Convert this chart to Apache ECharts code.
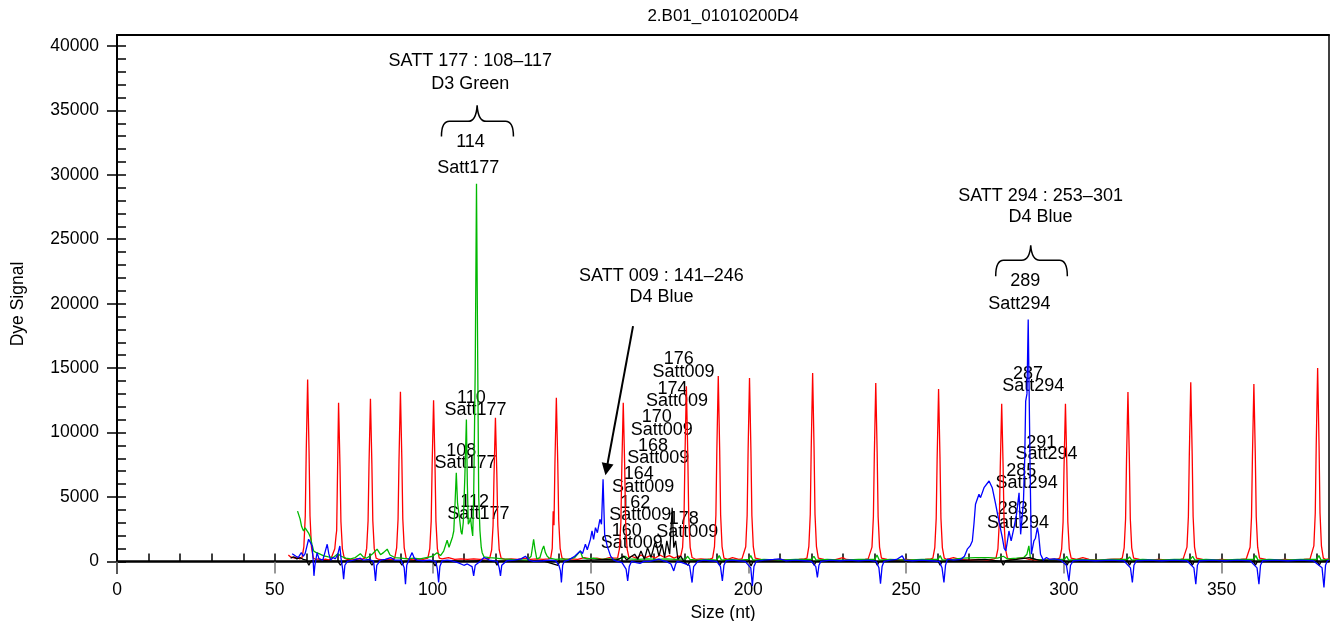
<!DOCTYPE html>
<html>
<head>
<meta charset="utf-8">
<script src="https://cdn.jsdelivr.net/npm/echarts@6/dist/echarts.min.js"></script>
<style>html,body{margin:0;padding:0;background:#fff}#c{width:1330px;height:621px}</style>
</head>
<body>
<div id="c"></div>
<script>
const chartTitle = '2.B01_01010200D4';
const xName = 'Size (nt)';
const yName = 'Dye Signal';
const xTickLabels = [0, 50, 100, 150, 200, 250, 300, 350];
const yTickLabels = [0, 5000, 10000, 15000, 20000, 25000, 30000, 35000, 40000];

const redTrace = [
[54.3,500],[55.0,350],[55.6,450],[56.3,250],[57.0,350],[57.8,200],
[58.6,250],[59.2,1130],[59.65,3530],[59.95,8470],[60.4,14120],[60.85,8470],[61.15,3530],[61.6,1130],[62.2,250],
[63.0,150],[64.0,200],[65.0,120],[66.0,180],[67.0,120],[67.8,200],
[68.4,250],[69.0,985],[69.4,2000],[69.6,2400],[69.9,7390],[70.2,12310],[70.65,7390],[70.95,3080],[71.4,985],[72.0,250],
[73,150],[74.5,120],[76,200],[77.5,150],
[78.5,250],[79.1,1010],[79.55,3155],[79.85,7570],[80.3,12620],[80.75,7570],[81.05,3155],[81.5,1010],[82.1,250],
[83,150],[84.5,120],[86,180],[87.2,150],
[88.0,250],[88.6,1050],[89.05,3290],[89.35,7900],[89.8,13160],[90.25,7900],[90.55,3290],[91.0,1050],[91.6,250],
[92.5,150],[94,120],[95.5,200],[97,150],
[98.5,250],[99.1,1000],[99.55,3125],[99.85,7500],[100.3,12500],[100.75,7500],[101.05,3125],[101.5,1000],[102.1,250],
[103,200],[105,300],[107,150],[109,200],[111,150],[113,200],[115,150],[117,200],
[118.1,250],[118.7,890],[119.15,2790],[119.45,6690],[119.9,11150],[120.35,6690],[120.65,2790],[121.1,890],[121.7,250],
[123,150],[125,200],[127,150],[129,250],[131,150],[133,200],[135,150],[136.6,200],
[137.4,250],[137.9,1015],[138.2,3900],[138.45,2800],[138.75,7620],[139.2,12700],[139.65,7620],[139.95,3175],[140.4,1015],[141.0,250],
[142,150],[144,200],[146,150],[148,300],[150,200],[152,250],[154,150],[156,300],[157.6,250],
[158.6,250],[159.2,985],[159.65,3080],[159.95,7390],[160.4,12310],[160.85,7390],[161.15,3080],[161.6,985],[162.2,300],
[163,400],[164.5,250],[166,500],[167.5,300],[169,450],[170.5,250],[172,500],[173.5,300],[175,450],[176.5,250],[177.8,400],
[178.6,400],[179.2,1090],[179.65,3400],[179.95,8160],[180.4,13600],[180.85,8160],[181.15,3400],[181.6,1090],[182.2,300],
[183.5,150],[185,200],[187,150],[188.0,200],
[188.7,250],[189.3,1150],[189.75,3595],[190.05,8630],[190.5,14380],[190.95,8630],[191.25,3595],[191.7,1150],[192.3,250],
[193.5,150],[195,300],[197,150],[198.0,200],
[198.6,250],[199.2,1140],[199.65,3560],[199.95,8540],[200.4,14230],[200.85,8540],[201.15,3560],[201.6,1140],[202.2,250],
[204,150],[207,100],[210,150],[213,100],[216,150],[217.8,200],
[218.6,250],[219.2,1170],[219.65,3650],[219.95,8770],[220.4,14610],[220.85,8770],[221.15,3650],[221.6,1170],[222.2,250],
[224,150],[227,100],[230,300],[231,150],[234,100],[237,150],[238.0,200],
[238.6,250],[239.2,1110],[239.65,3460],[239.95,8300],[240.4,13840],[240.85,8300],[241.15,3460],[241.6,1110],[242.2,250],
[244,150],[247,100],[250,150],[253,100],[256,150],[257.8,200],
[258.5,250],[259.1,1070],[259.55,3340],[259.85,8020],[260.3,13370],[260.75,8020],[261.05,3340],[261.5,1070],[262.1,250],
[263,150],[265,300],[267,150],[270,100],[273,150],[276,100],[277.8,200],
[278.5,250],[279.1,980],[279.55,3060],[279.85,7340],[280.3,12230],[280.75,7340],[281.05,3060],[281.5,980],[282.1,250],
[283,150],[285,200],[287,300],[289,150],[292,100],[295,150],[298.0,200],
[298.7,250],[299.3,980],[299.75,3060],[300.05,7340],[300.5,12230],[300.95,7340],[301.25,3060],[301.7,980],[302.3,250],
[304,150],[306,300],[308,150],[311,100],[314,150],[317.8,200],
[318.5,250],[319.1,1050],[319.55,3290],[319.85,7890],[320.3,13150],[320.75,7890],[321.05,3290],[321.5,1050],[322.1,250],
[324,150],[327,100],[330,150],[334,100],[337,150],[337.8,200],
[338.4,250],[339.0,1110],[339.45,3480],[339.75,8350],[340.2,13910],[340.65,8350],[340.95,3480],[341.4,1110],[342.0,250],
[344,150],[347,100],[350,150],[353,100],[356,150],[357.8,200],
[358.4,250],[359.0,1100],[359.45,3440],[359.75,8260],[360.2,13760],[360.65,8260],[360.95,3440],[361.4,1100],[362.0,250],
[364,150],[367,100],[370,150],[373,100],[376,150],[378.0,200],
[378.6,250],[379.2,1200],[379.65,3750],[379.95,9000],[380.4,15000],[380.85,9000],[381.15,3750],[381.6,1200],[382.2,250],
[383,150],[384,200]
];

const greenTrace = [
[57.2,3900],[57.6,3750],[58.0,3300],[58.5,2700],[59.1,2360],[59.6,2600],[60.2,2500],[60.7,2200],[61.3,1850],[61.8,1300],
[62.3,810],[63,700],[64,600],[65.5,430],[67,350],[68.5,300],[70,600],[71,400],[72.5,250],[74,200],[75.5,300],[77.1,600],
[78,350],[79,250],[80,400],[81,600],[82.4,950],[83.5,520],[84.5,700],[85.6,950],[86.5,500],[88,300],[90,250],[92,200],
[94,250],[96,200],[98,300],[100,400],[101.4,680],[102.5,450],[103.5,800],[104.6,1640],[105.2,1100],[105.7,1070],[106.3,1900],
[106.7,2360],[107.1,4500],[107.5,6880],[107.9,4500],[108.5,3400],[109.0,2300],[109.3,2100],[109.7,3000],[110.2,6500],
[110.7,11020],[111.0,6000],[111.3,2880],[111.7,3100],[112.0,3400],[112.4,2500],[112.7,1980],[113.0,4950],[113.5,15000],
[113.9,29300],[114.3,15000],[114.6,4950],[115.0,2360],[115.4,1100],[115.7,680],[116.3,350],[118,300],[120,250],[122,200],
[125,150],[128,120],[130,100],[131.2,400],[131.7,1200],[132.0,1720],[132.4,1000],[133,200],[134,300],[134.7,900],[135.2,1200],
[135.7,700],[136.3,400],[137,250],[139,150],[141,200],[143,150],[145,300],[146.8,810],[147.5,300],[149,200],[151,250],
[153,150],[156,200],[158,150],[160,250],[161,400],[162,200],[165,150],[168,200],[171,150],[174,200],[177,150],[180.2,200],
[180.8,400],[181.5,150],[184,100],[187,150],[190,100],[190.8,450],[191.5,100],[194,150],[197,100],[200.1,150],[200.8,450],
[201.5,100],[205,150],[210,100],[215,150],[220.1,150],[220.8,400],[221.5,100],[225,150],[230,100],[235,150],[240.1,150],
[240.8,500],[241.5,100],[245,150],[250,100],[255,150],[260.1,150],[260.8,450],[261.5,100],[265,150],[268,250],[272,300],
[276,300],[279,250],[280.8,400],[282,200],[285,250],[287.3,300],[288.3,560],[288.9,1200],[289.4,250],[291,150],[294,100],
[297,150],[300.2,150],[300.9,400],[301.5,100],[305,150],[310,100],[315,150],[320.1,150],[320.8,350],[321.5,100],[325,150],
[330,100],[335,150],[340.1,150],[340.8,400],[341.5,100],[345,150],[350,100],[355,150],[360.1,150],[360.8,450],[361.5,100],
[365,150],[370,100],[375,150],[380.1,150],[380.8,450],[381.5,100],[384,150]
];

const blueTrace = [
[55.5,600],[56,680],[56.7,400],[57.4,300],[58.4,680],[59,400],[59.6,600],[60.2,1200],[60.7,1720],[61.2,1500],[61.8,1200],
[62.1,300],[62.4,-1120],[62.7,-300],[63.4,680],[64,200],[64.4,300],[65.2,100],[66,800],[66.6,1330],[67.1,600],[67.7,100],
[68.5,300],[69.2,200],[70.0,600],[70.6,1200],[71.0,200],[71.5,-600],[71.8,-1380],[72.2,-300],[73,0],[75,100],[77.1,250],
[78,100],[80,150],[81.3,0],[81.6,-700],[81.9,-1510],[82.3,-300],[83.5,100],[85,150],[86.7,300],[88,100],[90,100],[91,-500],
[91.4,-1770],[91.8,-300],[92.6,200],[93.5,680],[94.2,250],[95,100],[97,50],[99,100],[101,0],[101.5,-600],[101.9,-1640],
[102.3,-400],[103,50],[104.6,100],[106,50],[108,-100],[109.9,-300],[111,-200],[112.5,-400],[113,-1120],[113.5,-300],[115,0],
[116.3,300],[118,100],[120.5,0],[121.1,-500],[121.5,-1120],[121.9,-300],[123.5,50],[126,100],[128,200],[129.4,400],[130.5,100],
[132,0],[135,50],[137,100],[139,50],[140.0,-300],[140.5,-740],[140.8,-1640],[141.2,-300],[141.7,0],[143,100],[145,400],
[146.8,810],[147.5,600],[148.4,1330],[149,900],[150,1720],[150.5,2360],[151,1700],[151.6,2620],[152.2,2230],[153,3270],
[153.5,2880],[154,6370],[154.5,2100],[155.3,1200],[156.4,410],[157.4,100],[158.5,0],[160,-100],[161.3,-600],[161.8,-1510],
[162.3,-400],[163,0],[164.5,-100],[165.7,-150],[167,0],[168.8,0],[170.5,100],[171.7,170],[173,50],[174,0],[175.5,-200],
[176.4,-740],[177,-200],[177.5,0],[179,-100],[181.4,-300],[182.2,-1640],[182.7,-400],[184,0],[186,100],[188,50],[190,0],
[191.2,-400],[191.8,-1510],[192.3,-300],[193,50],[195,100],[197,50],[199,0],[200.8,-500],[201.3,-1900],[201.8,-400],
[202.5,0],[205,100],[208,150],[210,200],[212,50],[215,100],[218,50],[220,0],[221.4,-400],[221.9,-1250],[222.4,-300],[223,0],
[226,100],[229,50],[232,100],[235,50],[238,100],[240.5,0],[241.4,-500],[241.9,-1720],[242.4,-400],[243,0],[245,100],
[247,150],[248.8,430],[249.5,100],[252,50],[255,100],[258,50],[260.5,0],[261.4,-500],[262,-1640],[262.5,-300],[263.1,170],
[265,100],[267.3,150],[268.5,400],[269.4,950],[270.3,1200],[271,1590],[271.5,2880],[272,4430],[273.1,5210],[273.6,4950],
[274.7,5720],[276.3,6240],[277.3,5720],[278.4,4430],[279.4,3140],[280.5,1850],[281.1,1000],[281.6,810],[282.0,1400],
[282.6,2360],[283.3,1590],[284.2,2620],[285,3660],[285.8,5330],[286.3,2100],[287.2,4690],[287.6,8000],[287.9,12440],
[288.3,13000],[288.7,18770],[289.3,7270],[289.7,560],[290.1,700],[290.5,1590],[291.0,1800],[291.6,2620],[292,2100],
[292.6,560],[293.5,100],[294.5,300],[295.5,150],[297,200],[299,100],[300.8,-300],[301.6,-1510],[302.1,-300],[303,50],
[306,100],[310,50],[315,100],[319,50],[321.1,-500],[321.7,-1640],[322.2,-300],[323,50],[327,100],[331,50],[335,100],
[339,50],[341.2,-500],[341.8,-1770],[342.3,-300],[343,50],[347,100],[351,50],[355,100],[359,50],[361.2,-500],[361.8,-1770],
[362.3,-300],[363,50],[367,100],[371,50],[375,100],[379,50],[381.8,-500],[382.4,-2030],[382.9,-300],[383.5,50],[384,100]
];

const blackTrace = [
[55,250],[56,350],[57,200],[58,300],[59,150],[60,100],[60.8,-300],[61.5,50],[63,0],[66,50],[70,0],[70.8,-300],[71.5,0],
[75,50],[80,0],[80.8,-300],[81.5,0],[85,50],[89.5,0],[90.3,-300],[91,0],[95,50],[100,0],[100.8,-350],[101.5,0],[105,50],
[110,0],[115,50],[119.8,0],[120.4,-300],[121,0],[125,50],[130,0],[135,50],[139.7,-300],[140.3,0],[145,50],[150,100],
[155,150],[158,100],[159,170],[160.6,410],[161.5,100],[162.5,300],[164,560],[165,170],[166,800],[167.1,170],[168.1,1070],
[169.2,300],[170.6,1590],[171.7,410],[172.7,1330],[173.5,300],[174.2,1590],[175.1,560],[175.9,4170],[176.4,1070],[177,1590],
[177.7,170],[178.6,410],[179.6,0],[180.9,-300],[181.5,0],[185,50],[190.4,0],[191,-300],[191.6,0],[195,50],[200.3,0],
[200.9,-350],[201.5,0],[205,50],[210,0],[215,50],[220.3,0],[220.9,-300],[221.5,0],[225,50],[230,0],[235,50],[240.3,0],
[240.9,-300],[241.5,0],[245,50],[250,0],[255,50],[260.2,0],[260.8,-300],[261.4,0],[265,50],[270,100],[275,150],[280.2,0],
[280.8,-300],[281.5,50],[285,150],[289,300],[292,100],[295,50],[300.4,0],[301,-300],[301.6,0],[305,50],[310,0],[315,50],
[320.2,0],[320.8,-300],[321.4,0],[325,50],[330,0],[335,50],[340.1,0],[340.7,-300],[341.3,0],[345,50],[350,0],[355,50],
[360.1,0],[360.7,-300],[361.3,0],[365,50],[370,0],[375,50],[380.3,0],[380.9,-300],[381.5,0],[384,50]
];

// text annotations: [text, size (nt), signal]
const headerLabels = [
['SATT 177 : 108\u2013117', 111.9, 38840], ['D3 Green', 111.9, 37020],
['SATT 009 : 141\u2013246', 172.5, 22130], ['D4 Blue', 172.5, 20500],
['SATT 294 : 253\u2013301', 292.6, 28330], ['D4 Blue', 292.6, 26710]
];
const peakNumberLabels = [
['114', 112.0, 32520], ['110', 112.3, 12710], ['108', 109.1, 8600], ['112', 113.3, 4570],
['176', 178.0, 15670], ['174', 176.0, 13390], ['170', 171.0, 11180], ['168', 169.8, 8950],
['164', 165.3, 6760], ['162', 164.2, 4560], ['160', 161.5, 2360], ['178', 179.6, 3270],
['289', 287.8, 21740], ['287', 288.6, 14510], ['291', 292.8, 9210], ['285', 286.5, 7015], ['283', 283.8, 4050]
];
const peakNameLabels = [
['Satt177', 111.3, 30500], ['Satt177', 113.6, 11780], ['Satt177', 110.4, 7670], ['Satt177', 114.5, 3640],
['Satt009', 179.5, 14730], ['Satt009', 177.4, 12440], ['Satt009', 172.6, 10220], ['Satt009', 171.5, 8050],
['Satt009', 166.7, 5800], ['Satt009', 165.8, 3600], ['Satt009', 163.1, 1410], ['Satt009', 180.7, 2310],
['Satt294', 285.9, 19940], ['Satt294', 290.3, 13600], ['Satt294', 294.5, 8310], ['Satt294', 288.2, 6110], ['Satt294', 285.5, 3010]
];
// braces: [left size, tip size, right size, end signal, bar signal, tip signal]
const braces = [
[102.8, 114.1, 125.6, 32980, 34150, 35390],
[278.4, 289.5, 301.1, 22130, 23370, 24530]
];
// arrow from / to [size, signal]
const arrowFrom = [163.5, 18260];
const arrowTo = [155.1, 7150];

const FONT = "'Liberation Sans', Arial, Helvetica, sans-serif";
const yMinor = [];
for (let v = 0; v <= 40000; v += 1000) yMinor.push(v);
const xMinor = [];
for (let v = 0; v <= 380; v += 10) xMinor.push(v);

const chart = echarts.init(document.getElementById('c'), null, { renderer: 'canvas' });

function traceSeries(name, data, color) {
  return {
    name: name, type: 'line', data: data, xAxisIndex: 0, yAxisIndex: 0,
    symbol: 'none', showSymbol: false, clip: false, smooth: false,
    lineStyle: { color: color, width: 1.3 }, itemStyle: { color: color },
    animation: false, silent: true
  };
}

const annotationData = headerLabels.concat(peakNumberLabels, peakNameLabels).map(a => ({ name: a[0], value: [a[1], a[2]] }));

const option = {
  animation: false,
  textStyle: { fontFamily: FONT },
  title: {
    text: chartTitle, left: 718, top: 3, textAlign: 'center',
    textStyle: { fontSize: 17, fontWeight: 'normal', color: '#000', fontFamily: FONT }
  },
  grid: [
    { left: 117, right: 1, top: 35, bottom: 48, containLabel: false, outerBoundsMode: 'none' },
    { left: 117, right: 1, top: 35, bottom: 60, containLabel: false, outerBoundsMode: 'none' }
  ],
  xAxis: [
    {
      type: 'value', gridIndex: 0, position: 'bottom', min: 0, max: 384,
      name: xName, nameLocation: 'middle', nameGap: 20,
      nameTextStyle: { fontSize: 17.5, color: '#000', fontFamily: FONT },
      axisLine: { show: true, onZero: true, onZeroAxisIndex: 0, lineStyle: { color: '#000', width: 2.5 } },
      axisTick: { show: true, inside: false, length: 12, customValues: xTickLabels, lineStyle: { color: '#777', width: 1.5 } },
      axisLabel: { show: true, customValues: xTickLabels, margin: 8, fontSize: 17.5, color: '#000', fontFamily: FONT, formatter: v => String(v) },
      splitLine: { show: false }
    },
    {
      type: 'value', gridIndex: 0, position: 'bottom', min: 0, max: 384,
      axisLine: { show: false, onZero: true, onZeroAxisIndex: 0 },
      axisTick: { show: true, inside: true, length: 8, customValues: xMinor, lineStyle: { color: '#000', width: 1.5 } },
      axisLabel: { show: false }, splitLine: { show: false }
    },
    {
      type: 'value', gridIndex: 1, position: 'top', min: 0, max: 1,
      axisLine: { show: true, onZero: false, lineStyle: { color: '#000', width: 2 } },
      axisTick: { show: false }, axisLabel: { show: false }, splitLine: { show: false }
    }
  ],
  yAxis: [
    {
      type: 'value', gridIndex: 0, position: 'left', min: -900, max: 40850,
      name: yName, nameLocation: 'middle', nameGap: 90, nameRotate: 90,
      nameTextStyle: { fontSize: 17.5, color: '#000', fontFamily: FONT },
      axisLine: { show: true, onZero: false, lineStyle: { color: '#000', width: 2 } },
      axisTick: { show: true, inside: false, length: 10, customValues: yTickLabels, lineStyle: { color: '#000', width: 1.5 } },
      axisLabel: { show: true, customValues: yTickLabels, margin: 18, fontSize: 17.5, color: '#000', fontFamily: FONT, formatter: v => String(v) },
      splitLine: { show: false }
    },
    {
      type: 'value', gridIndex: 0, position: 'left', min: -900, max: 40850,
      axisLine: { show: false, onZero: false },
      axisTick: { show: true, inside: true, length: 9, customValues: yMinor, lineStyle: { color: '#000', width: 1.5 } },
      axisLabel: { show: false }, splitLine: { show: false }
    },
    {
      type: 'value', gridIndex: 1, position: 'right', min: 0, max: 1,
      axisLine: { show: true, onZero: false, lineStyle: { color: '#000', width: 1.5 } },
      axisTick: { show: false }, axisLabel: { show: false }, splitLine: { show: false }
    }
  ],
  series: [
    traceSeries('Red', redTrace, '#ff0000'),
    traceSeries('Green', greenTrace, '#00b800'),
    traceSeries('Black', blackTrace, '#000000'),
    traceSeries('Blue', blueTrace, '#0000ff'),
    {
      name: 'Braces', type: 'custom', xAxisIndex: 0, yAxisIndex: 0, clip: false, silent: true,
      data: braces, encode: { x: [0, 1, 2], y: [3, 4, 5] },
      renderItem: function (params, api) {
        const l = api.coord([api.value(0), api.value(3)]);
        const r = api.coord([api.value(2), api.value(3)]);
        const m = api.coord([api.value(1), api.value(4)]);
        const t = api.coord([api.value(1), api.value(5)]);
        const ym = m[1];
        const p = 'M' + l[0] + ',' + l[1] +
          ' Q' + l[0] + ',' + ym + ' ' + (l[0] + 8) + ',' + ym +
          ' L' + (t[0] - 9) + ',' + ym +
          ' Q' + (t[0] - 1) + ',' + ym + ' ' + t[0] + ',' + t[1] +
          ' Q' + (t[0] + 1) + ',' + ym + ' ' + (t[0] + 9) + ',' + ym +
          ' L' + (r[0] - 8) + ',' + ym +
          ' Q' + r[0] + ',' + ym + ' ' + r[0] + ',' + r[1];
        return { type: 'path', shape: { pathData: p }, style: { fill: 'none', stroke: '#000', lineWidth: 1.5 } };
      }
    },
    {
      name: 'Annotations', type: 'scatter', xAxisIndex: 0, yAxisIndex: 0, clip: false, silent: true,
      symbolSize: 0, data: annotationData,
      label: {
        show: true, position: 'inside', formatter: '{b}', color: '#000', fontSize: 18, fontFamily: FONT,
        textBorderWidth: 0, textBorderColor: 'transparent', textShadowBlur: 0, opacity: 1
      },
      markLine: {
        silent: true, animation: false, symbol: ['none', 'triangle'], symbolSize: 12,
        label: { show: false },
        lineStyle: { color: '#000', width: 2, type: 'solid' },
        data: [[{ coord: arrowFrom }, { coord: arrowTo }]]
      }
    }
  ]
};
chart.setOption(option);
</script>
</body>
</html>
